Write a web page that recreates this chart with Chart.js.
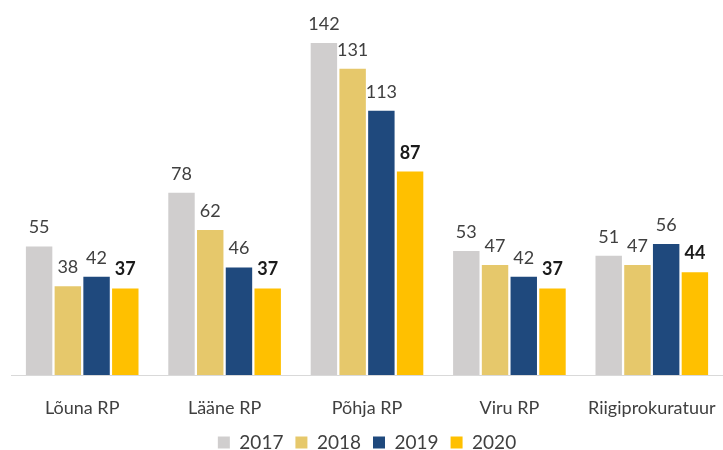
<!DOCTYPE html>
<html><head><meta charset="utf-8">
<script src="https://cdn.jsdelivr.net/npm/chart.js@4"></script>
<style>html,body{margin:0;padding:0;background:#fff}#w{width:723px;height:450px}</style>
</head><body><div id="w"><canvas id="c"></canvas></div>
<script>
const categories = ["Lõuna RP", "Lääne RP", "Põhja RP", "Viru RP", "Riigiprokuratuur"];
const years = ["2017", "2018", "2019", "2020"];
const v2017 = [55, 78, 142, 53, 51];
const v2018 = [38, 62, 131, 47, 47];
const v2019 = [42, 46, 113, 42, 56];
const v2020 = [37, 37, 87, 37, 44];
const colors = ["#D0CECE", "#E6C86B", "#1F497D", "#FFC000"];
const FONT = "Lato, 'Open Sans', sans-serif";

const labelPlugin = {
  id: 'vals',
  afterDatasetsDraw(chart) {
    const ctx = chart.ctx;
    chart.data.datasets.forEach((ds, di) => {
      const meta = chart.getDatasetMeta(di);
      meta.data.forEach((bar, i) => {
        const bold = di === 3;
        ctx.save();
        ctx.font = (bold ? 'bold ' : '') + '18px ' + FONT;
        ctx.fillStyle = bold ? '#1a1a1a' : '#404040';
        ctx.textAlign = 'center';
        ctx.textBaseline = 'alphabetic';
        ctx.fillText(ds.data[i], bar.x, bar.y - 13);
        ctx.restore();
      });
    });
  }
};

new Chart(document.getElementById('c'), {
  type: 'bar',
  data: {
    labels: categories,
    datasets: [v2017, v2018, v2019, v2020].map((d, i) => ({
      label: years[i], data: d, backgroundColor: colors[i],
      barPercentage: 0.92, categoryPercentage: 0.807
    }))
  },
  options: {
    responsive: true, maintainAspectRatio: false, animation: false,
    layout: { padding: { top: 43, left: 11, right: 0, bottom: -12 } },
    scales: {
      x: {
        grid: { display: false, drawTicks: false },
        border: { display: true, color: '#D9D9D9', width: 1 },
        ticks: { color: '#404040', font: { family: FONT, size: 18, lineHeight: 1 }, padding: 24 },
        afterFit(s) { s.height = 46; s.paddingLeft = 0; s.paddingRight = 0; }
      },
      y: { display: false, min: 0, max: 142 }
    },
    plugins: {
      legend: {
        position: 'bottom',
        labels: { color: '#404040', font: { family: FONT, size: 19, lineHeight: 1 }, boxWidth: 12, boxHeight: 12, padding: 12 }
      },
      tooltip: { enabled: false }
    }
  },
  plugins: [labelPlugin]
});
</script></body></html>
